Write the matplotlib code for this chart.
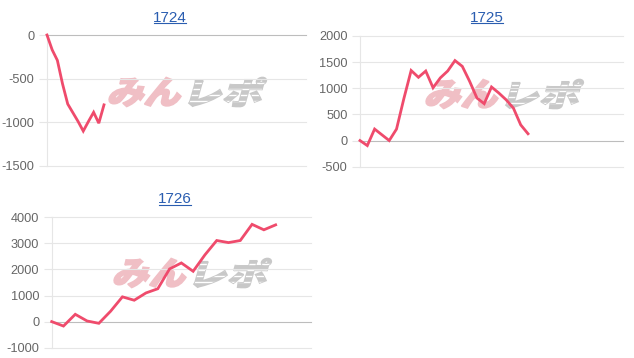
import matplotlib
matplotlib.use("Agg")
import matplotlib.pyplot as plt
from matplotlib.textpath import TextPath
from matplotlib.font_manager import FontProperties
from matplotlib.patches import PathPatch
from matplotlib.transforms import Affine2D, IdentityTransform
from matplotlib.lines import Line2D

# --- data ---
titles = ["1724", "1725", "1726"]
diff_1724 = [0, -170, -290, -560, -790, -890, -990, -1100, -990, -885, -1010, -800]
diff_1725 = [0, -96, 220, 110, 0, 220, 800, 1340, 1210, 1330, 1010, 1200,
             1330, 1530, 1420, 1135, 815, 705, 1025, 910, 780, 620, 300, 130]
diff_1726 = [0, -170, 280, 25, -65, 400, 950, 820, 1100, 1260, 2020, 2250,
             1930, 2560, 3110, 3030, 3110, 3730, 3520, 3710]
yticks_1724 = [-1500, -1000, -500, 0]
yticks_1725 = [-500, 0, 500, 1000, 1500, 2000]
yticks_1726 = [-1000, 0, 1000, 2000, 3000, 4000]

W, H = 634, 358
LINE = "#ef4b6c"
GRID = "#e6e6e6"
ZERO = "#bdbdbd"
TXT = "#666666"
LINK = "#2a5db0"

plt.rcParams["font.family"] = ["Liberation Sans", "DejaVu Sans"]
plt.rcParams["axes.unicode_minus"] = False

fig = plt.figure(figsize=(W / 100, H / 100), dpi=100)


def watermark(cx, cy):
    # skewed "みんレポ" logo behind each chart
    fp = FontProperties(family="Noto Sans CJK JP", weight=900)
    h = 29
    for txt, color, x0, stripes in [("みん", "#f0bfc5", cx - 80, False),
                                    ("レポ", "#c8c8c8", cx + 1, True)]:
        p = TextPath((0, 0), txt, size=1, prop=fp)
        e = p.get_extents()
        tr = (Affine2D().translate(-e.x0, -e.y0)
              .scale(71 / e.width, h / e.height)
              .skew_deg(16, 0)
              .translate(x0, H - cy - h / 2))
        patch = PathPatch(tr.transform_path(p), facecolor=color, edgecolor=color,
                          lw=1.2, transform=IdentityTransform(), zorder=-1)
        fig.add_artist(patch)
        if stripes:
            y0 = H - cy - h / 2
            for k in range(1, 5):
                ln = Line2D([x0 - 5, x0 + 80], [y0 + k * h / 5] * 2, color="white",
                            lw=1.0, transform=IdentityTransform(), zorder=-0.9)
                ln.set_clip_path(patch.get_path(), IdentityTransform())
                fig.add_artist(ln)


def panel(rect, values, n_steps, ticks, title, title_xy, wm_xy):
    l, t, r, b = rect
    ax = fig.add_axes([l / W, 1 - b / H, (r - l) / W, (b - t) / H])
    ax.set_facecolor("none")
    ax.set_xlim(0, n_steps)
    ax.set_ylim(ticks[0], ticks[-1])
    for v in ticks:
        ax.axhline(v, color=ZERO if v == 0 else GRID, lw=0.8, clip_on=False, zorder=0)
    ax.plot(range(len(values)), values, color=LINE, lw=2.0, clip_on=False,
            solid_joinstyle="miter", zorder=3)
    ax.set_xticks([])
    ax.set_yticks(ticks)
    ax.tick_params(axis="y", length=6, width=0.8, color=GRID, pad=3,
                   labelsize=9.2, labelcolor=TXT)
    for s in ["top", "right", "bottom"]:
        ax.spines[s].set_visible(False)
    ax.spines["left"].set_color(GRID)
    ax.spines["left"].set_linewidth(0.8)

    tx, ty = title_xy
    txt = fig.text(tx / W, 1 - ty / H, title, ha="center", va="baseline",
                   fontsize=11, color=LINK)
    fig.canvas.draw()
    bb = txt.get_window_extent()
    fig.add_artist(Line2D([bb.x0 + 1, bb.x1 - 1], [H - ty - 1.8, H - ty - 1.8],
                          color=LINK, lw=0.8, transform=IdentityTransform()))
    watermark(*wm_xy)
    return ax


panel((47, 35, 306, 166), diff_1724, 50, yticks_1724, titles[0], (170, 21.5), (187, 92))
panel((360, 36, 623, 166.7), diff_1725, 36, yticks_1725, titles[1], (487, 21.5), (504, 94))
panel((51.7, 217.3, 311, 347.7), diff_1726, 22, yticks_1726, titles[2], (175, 203), (192, 273))

fig.savefig("out.png", dpi=100)
